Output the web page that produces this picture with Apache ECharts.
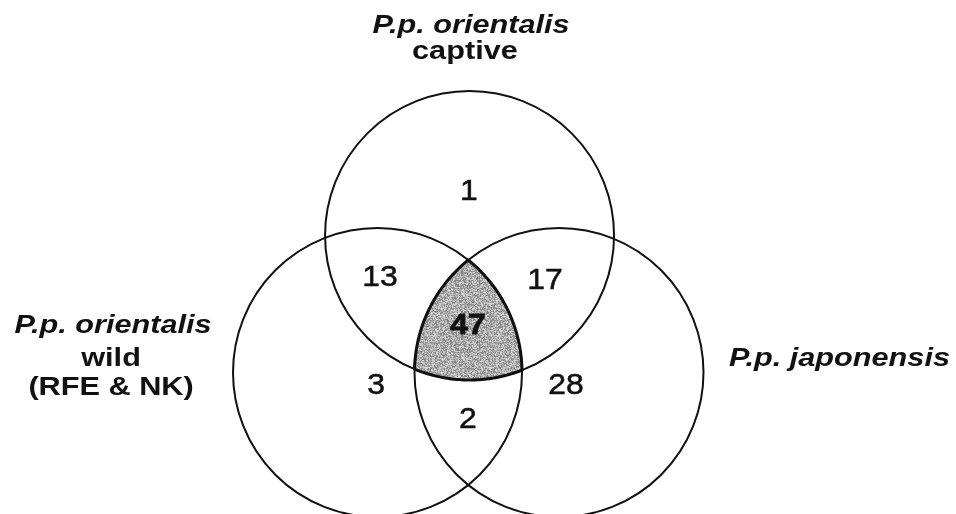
<!DOCTYPE html>
<html>
<head>
<meta charset="utf-8">
<script src="https://cdn.jsdelivr.net/npm/echarts@6/dist/echarts.min.js"></script>
<style>
  html, body { margin: 0; padding: 0; background: #fff; }
  #chart { width: 956px; height: 514px; }
</style>
</head>
<body>
<div id="chart"></div>
<script>
// sets: 0 = captive (top), 1 = wild (left), 2 = japonensis (right)
const setLabels = [
  ['P.p. orientalis', 'captive'],
  ['P.p. orientalis', 'wild', '(RFE & NK)'],
  ['P.p. japonensis']
];
const regionNames = ['captive only', 'captive & wild', 'captive & japonensis', 'all three',
  'wild only', 'japonensis only', 'wild & japonensis'];
const regionCounts = [1, 13, 17, 47, 3, 28, 2];

// layout, in circle-radius units
const circleCentre = [[0.009, 0.948], [-0.628, 0], [0.628, 0]];
const circleRadius = [1, 1, 1];
const countPos = [[0.005, 1.249], [-0.611, 0.654], [0.531, 0.633], [-0.002, 0.322],
  [-0.638, -0.093], [0.677, -0.093], [-0.002, -0.329]];
const setLabelPos = [
  [[0.019, 2.398], [-0.023, 2.218]],
  [[-2.458, 0.322], [-2.472, 0.093], [-2.472, -0.107]],
  [[2.569, 0.097]]
];

const PX = 144.5, OX = 468.25, OY = 372.5;
const W = 956, H = 514;

// grey stipple for the shared core
function stipple() {
  const cv = document.createElement('canvas');
  cv.width = 64; cv.height = 64;
  const ctx = cv.getContext('2d');
  const img = ctx.createImageData(64, 64);
  for (let y = 0; y < 64; y++) {
    for (let x = 0; x < 64; x++) {
      let h = (x * 73856093) ^ (y * 19349663) ^ ((x + y) * 83492791);
      h = (h ^ (h >>> 13)) >>> 0;
      const v = 122 + (h % 100);
      const i = (y * 64 + x) * 4;
      img.data[i] = img.data[i + 1] = img.data[i + 2] = v;
      img.data[i + 3] = 255;
    }
  }
  ctx.putImageData(img, 0, 0);
  return cv;
}

function meet(a, b, c) {
  const dx = b.x - a.x, dy = b.y - a.y, d = Math.hypot(dx, dy);
  const l = (a.r * a.r - b.r * b.r + d * d) / (2 * d);
  const h = Math.sqrt(Math.max(0, a.r * a.r - l * l));
  const mx = a.x + dx * l / d, my = a.y + dy * l / d;
  const p1 = [mx + h * dy / d, my - h * dx / d];
  const p2 = [mx - h * dy / d, my + h * dx / d];
  return Math.hypot(p1[0] - c.x, p1[1] - c.y) < c.r ? p1 : p2;
}

function arcPts(circ, p, q, out) {
  const a0 = Math.atan2(p[1] - circ.y, p[0] - circ.x);
  let a1 = Math.atan2(q[1] - circ.y, q[0] - circ.x);
  while (a1 < a0) a1 += 2 * Math.PI;
  for (let k = 0; k <= 48; k++) {
    const t = a0 + (a1 - a0) * k / 48;
    out.push([circ.x + circ.r * Math.cos(t), circ.y + circ.r * Math.sin(t)]);
  }
}

const texts = [];
setLabels.forEach((lines, s) => {
  lines.forEach((t, j) => {
    texts.push({ pos: setLabelPos[s][j], text: t, sx: 1.18, lw: 0,
      font: (j === 0 ? 'italic ' : '') + 'bold 26px "Liberation Sans"' });
  });
});
regionCounts.forEach((n, i) => {
  const core = regionNames[i] === 'all three';
  texts.push({ pos: countPos[i], text: String(n), sx: 1.1, lw: core ? 0.8 : 0.5,
    font: (core ? 'bold ' : '') + '29px "Liberation Sans"' });
});

const chart = echarts.init(document.getElementById('chart'));
const pattern = { image: stipple(), repeat: 'repeat' };

chart.setOption({
  animation: false,
  grid: { left: 0, right: 0, top: 0, bottom: 0 },
  xAxis: { type: 'value', min: -OX / PX, max: (W - OX) / PX, show: false },
  yAxis: { type: 'value', min: -(H - OY) / PX, max: OY / PX, show: false },
  series: [
    {
      type: 'custom',
      name: 'core',
      data: [[0, 0]],
      renderItem: (params, api) => {
        const c = circleCentre.map((p, i) => {
          const q = api.coord(p);
          return { x: q[0], y: q[1], r: api.size([circleRadius[i], 0])[0] };
        });
        const A = meet(c[1], c[2], c[0]);
        const C = meet(c[0], c[1], c[2]);
        const B = meet(c[0], c[2], c[1]);
        const pts = [];
        arcPts(c[1], A, C, pts);
        arcPts(c[0], C, B, pts);
        arcPts(c[2], B, A, pts);
        return {
          type: 'polygon',
          shape: { points: pts },
          style: { fill: pattern, stroke: '#111', lineWidth: 3, lineJoin: 'round' }
        };
      }
    },
    {
      type: 'custom',
      name: 'sets',
      data: circleCentre.map((p, i) => [p[0], p[1], circleRadius[i]]),
      renderItem: (params, api) => {
        const c = api.coord([api.value(0), api.value(1)]);
        const r = api.size([api.value(2), 0])[0];
        return {
          type: 'circle',
          shape: { cx: c[0], cy: c[1], r: r },
          style: { fill: 'none', stroke: '#111', lineWidth: 2 }
        };
      }
    },
    {
      type: 'custom',
      name: 'labels',
      data: texts.map(t => t.pos),
      renderItem: (params, api) => {
        const t = texts[params.dataIndex];
        const c = api.coord([api.value(0), api.value(1)]);
        const style = {
          text: t.text,
          font: t.font,
          fill: '#111',
          textAlign: 'center',
          textVerticalAlign: 'middle'
        };
        if (t.lw) { style.stroke = '#111'; style.lineWidth = t.lw; }
        return { type: 'text', x: c[0], y: c[1], scaleX: t.sx, style: style };
      }
    }
  ]
});
</script>
</body>
</html>
